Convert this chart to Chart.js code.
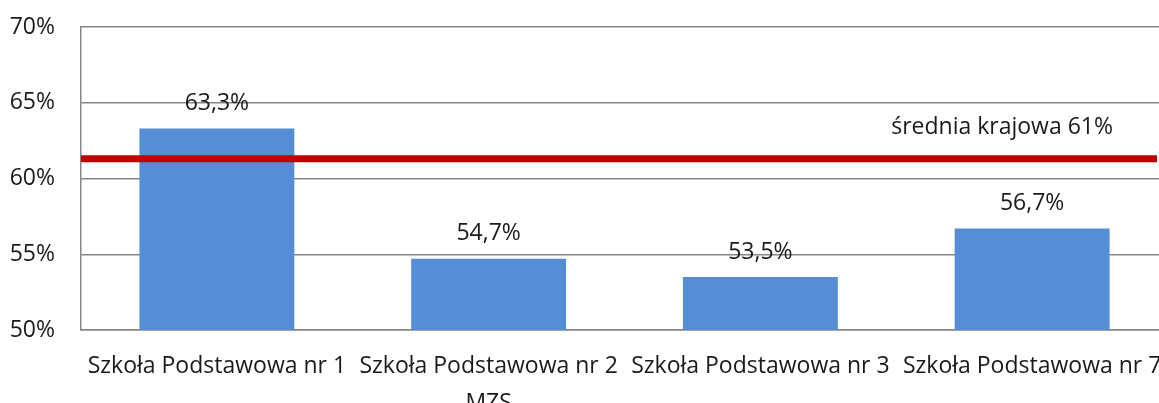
<!DOCTYPE html>
<html>
<head>
<meta charset="utf-8">
<script src="https://cdn.jsdelivr.net/npm/chart.js@4"></script>
<style>
  html, body { margin: 0; padding: 0; background: #fff; overflow: hidden; }
  #wrap { width: 1159px; height: 403px; overflow: hidden; }
</style>
</head>
<body>
<div id="wrap"><canvas id="schoolChart" width="1168" height="403"></canvas></div>
<script>
const schools = [
  "Szkoła Podstawowa nr 1",
  ["Szkoła Podstawowa nr 2", "MZS"],
  "Szkoła Podstawowa nr 3",
  "Szkoła Podstawowa nr 7"
];
const scores = [63.3, 54.7, 53.5, 56.7];
const nationalAverage = 61.3;
const averageLabel = "średnia krajowa 61%";
const yTicks = [50, 55, 60, 65, 70];

const FONT = "'Open Sans', sans-serif";
const SIZE = 23;

const averageLine = {
  id: "averageLine",
  afterDatasetsDraw(chart) {
    const { ctx, chartArea, scales } = chart;
    const y = scales.y.getPixelForValue(nationalAverage);
    ctx.save();
    ctx.strokeStyle = "#C00000";
    ctx.lineWidth = 7;
    ctx.beginPath();
    ctx.moveTo(chartArea.left, y);
    ctx.lineTo(chartArea.right - 11, y);
    ctx.stroke();
    ctx.fillStyle = "#1a1a1a";
    ctx.font = SIZE + "px " + FONT;
    ctx.textAlign = "right";
    ctx.textBaseline = "middle";
    ctx.fillText(averageLabel, chartArea.right - 55, y - 31);
    ctx.restore();
  }
};

const barLabels = {
  id: "barLabels",
  afterDatasetsDraw(chart) {
    const { ctx } = chart;
    const meta = chart.getDatasetMeta(0);
    ctx.save();
    ctx.fillStyle = "#1a1a1a";
    ctx.font = SIZE + "px " + FONT;
    ctx.textAlign = "center";
    ctx.textBaseline = "middle";
    meta.data.forEach((bar, i) => {
      ctx.fillText(scores[i].toFixed(1).replace(".", ",") + "%", bar.x, bar.y - 25);
    });
    ctx.restore();
  }
};

new Chart(document.getElementById("schoolChart"), {
  type: "bar",
  data: {
    labels: schools,
    datasets: [{
      data: scores,
      backgroundColor: "#558ED5",
      borderWidth: 0,
      barPercentage: 0.57,
      categoryPercentage: 1
    }]
  },
  options: {
    responsive: false,
    animation: false,
    layout: { padding: { top: 27, right: 0, left: 0, bottom: 0 } },
    plugins: { legend: { display: false }, tooltip: { enabled: false } },
    scales: {
      x: {
        grid: { display: false, drawTicks: false },
        border: { color: "#868686", width: 1.5 },
        ticks: { color: "#1a1a1a", font: { family: FONT, size: SIZE, lineHeight: 1.6 }, padding: 18, maxRotation: 0, autoSkip: false },
        afterFit(scale) { scale.height = 73; scale.paddingLeft = 0; scale.paddingRight = 0; }
      },
      y: {
        min: 50,
        max: 70,
        afterBuildTicks(scale) { scale.ticks = yTicks.map(v => ({ value: v })); },
        grid: { color: "#868686", lineWidth: 1.5, drawTicks: false },
        border: { color: "#868686", width: 1.5 },
        ticks: {
          color: "#1a1a1a",
          font: { family: FONT, size: SIZE },
          padding: 26,
          callback: v => v + "%"
        },
        afterFit(scale) { scale.width = 81; scale.paddingTop = 0; scale.paddingBottom = 0; }
      }
    }
  },
  plugins: [averageLine, barLabels]
});
</script>
</body>
</html>
